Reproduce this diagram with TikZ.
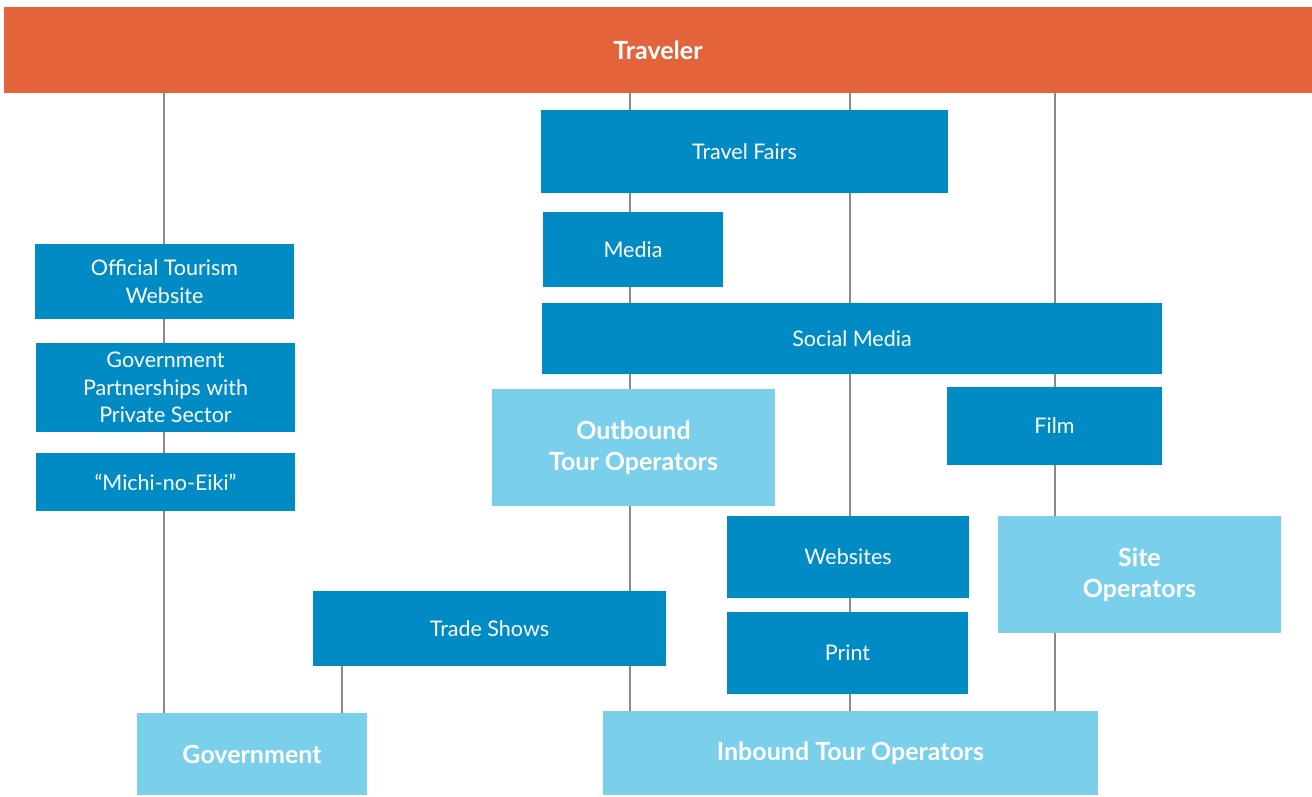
\documentclass[tikz,border=0pt]{standalone}
\usepackage{fontspec}
\setmainfont{Lato}
\usepackage{tikz}
\usetikzlibrary{positioning, backgrounds}
\definecolor{travelorange}{HTML}{E3633A}
\definecolor{channelblue}{HTML}{008BC4}
\definecolor{actorblue}{HTML}{7ACFEA}
\definecolor{linkgray}{HTML}{8A8A8A}
\tikzset{link/.style={draw=linkgray, line width=1.6pt}}

\begin{document}
\begin{tikzpicture}
    [x=1pt, y=-1pt,
      box/.style={fill=channelblue, text=white, align=center, inner sep=0pt, outer sep=0pt,
        font=\fontsize{21.5}{27.5}\selectfont},
      actor/.style={box, fill=actorblue, font=\bfseries\fontsize{25}{31}\selectfont}]

    \useasboundingbox (0,0) rectangle (1312,796);

    % top bar
    \node[actor, fill=travelorange, minimum width=1308pt, minimum height=86pt]
    (T) at (658,50) {Traveler};

    % channels
    \node[box, minimum width=407pt, minimum height=83pt] (TF) at (744.5,151.5) {Travel Fairs};
    \node[box, minimum width=180pt, minimum height=75pt] (M) at (633,249.5) {Media};
    \node[box, minimum width=620pt, minimum height=71pt] (SM) at (852,338.5) {Social Media};
    \node[box, minimum width=215pt, minimum height=78pt] (F) at (1054.5,426) {Film};
    \node[box, minimum width=242pt, minimum height=82pt] (W) at (848,557) {Websites};
    \node[box, minimum width=241pt, minimum height=82pt] (P) at (847.5,653) {Print};
    \node[box, minimum width=353pt, minimum height=75pt] (TS) at (489.5,628.5) {Trade Shows};

    \node[box, minimum width=259pt, minimum height=75pt] (OTW) at (164.5,281.5) {Official Tourism \\ Website};
    \node[box, minimum width=259pt, minimum height=89pt] (GP) at (165.5,387.5) {Government \\ Partnerships with \\ Private Sector};
    \node[box, minimum width=259pt, minimum height=58pt] (ME) at (165.5,482) {“Michi-no-Eiki”};

    % operators
    \node[actor, minimum width=283pt, minimum height=117pt] (OTO) at (633.5,447.5) {Outbound \\ Tour Operators};
    \node[actor, minimum width=283pt, minimum height=117pt] (SO) at (1139.5,574.5) {Site \\ Operators};
    \node[actor, minimum width=230pt, minimum height=82pt] (G) at (252,754) {Government};
    \node[actor, minimum width=495pt, minimum height=84pt] (ITO) at (850.5,753) {Inbound Tour Operators};

    \coordinate (c1) at (164,0);
    \coordinate (c2) at (630,0);
    \coordinate (c3) at (850,0);
    \coordinate (c4) at (1055,0);
    \coordinate (c5) at (342,0);

    \begin{scope}[on background layer]
      \draw[link] (T.south -| c1) -- (G.north -| c1);
      \draw[link] (T.south -| c2) -- (ITO.north -| c2);
      \draw[link] (T.south -| c3) -- (ITO.north -| c3);
      \draw[link] (T.south -| c4) -- (ITO.north -| c4);
      \draw[link] (TS.south -| c5) -- (G.north -| c5);
    \end{scope}
  \end{tikzpicture}
\end{document}
